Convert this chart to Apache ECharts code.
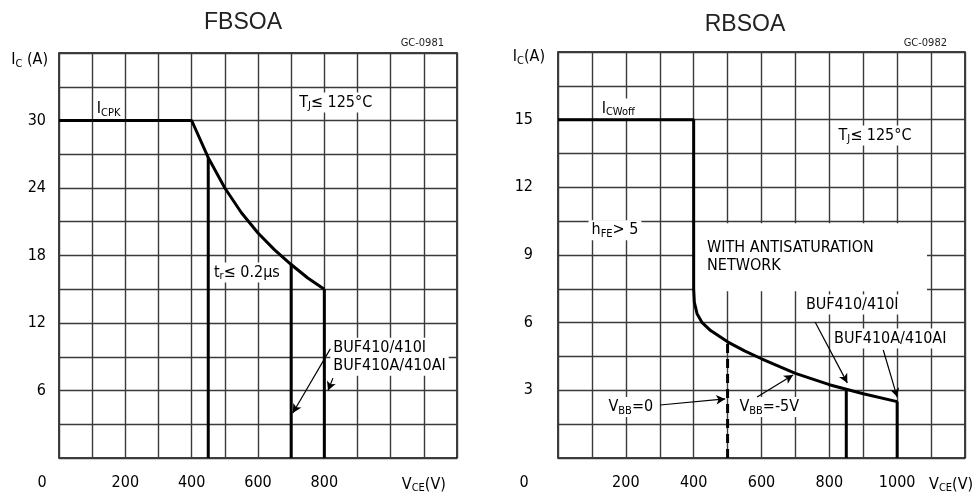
<!DOCTYPE html>
<html>
<head>
<meta charset="utf-8">
<script src="https://cdn.jsdelivr.net/npm/echarts@6/dist/echarts.min.js"></script>
<style>
html, body { margin: 0; padding: 0; background: #fff; }
#main { width: 978px; height: 495px; }
</style>
</head>
<body>
<div id="main"></div>
<script>
// ---------- FBSOA (left) ----------
var fbVce = [0, 400, 450, 500, 550, 600, 650, 700, 750, 800];
var fbIc = [30, 30, 26.7, 24, 21.8, 20, 18.5, 17.2, 16, 15];
// vertical limit lines (tr<=0.2us, BUF410, BUF410A)
var fbLimitV = [450, 700, 800];
var fbLimitI = [26.7, 17.2, 15];
var fbXTicks = [200, 400, 600, 800];
var fbYTicks = [6, 12, 18, 24, 30];

// ---------- RBSOA (right) ----------
var rbVce = [0, 400, 400, 402, 410, 425, 450, 500, 550, 600, 700, 800, 850, 900, 1000];
var rbIc = [15, 15, 7.5, 6.9, 6.4, 6.0, 5.65, 5.15, 4.75, 4.4, 3.75, 3.25, 3.05, 2.85, 2.5];
// VBB=0 (dashed), BUF410, BUF410A
var rbLimitV = [500, 850, 1000];
var rbLimitI = [5.15, 3.05, 2.5];
var rbXTicks = [200, 400, 600, 800, 1000];
var rbYTicks = [3, 6, 9, 12, 15];

var FONT = '"DejaVu Sans Condensed", "Liberation Sans Narrow", "DejaVu Sans", sans-serif';
var INK = '#000';

function zip(a, b) {
  var out = [];
  for (var i = 0; i < a.length; i++) out.push([a[i], b[i]]);
  return out;
}

var rich = {
  sub: { fontSize: 11, fontFamily: FONT, color: INK, padding: [8, 0, 0, 0] },
  o1: { fontSize: 16, fontFamily: FONT, color: INK, padding: [0, 34, 0, 0] },
  o2: { fontSize: 16, fontFamily: FONT, color: INK, padding: [0, 68, 0, 0] },
  v2: { fontSize: 16, fontFamily: FONT, color: INK, padding: [0, 0, 0, 40] },
  t: { fontSize: 16, fontFamily: FONT, color: INK }
};

function xAxisOf(gi, ticks, zeroStyle, nameStyle) {
  return {
    type: 'value', gridIndex: gi, min: 0, max: 1200, interval: 100,
    axisLine: { show: false }, axisTick: { show: false },
    splitLine: { show: true, lineStyle: { color: '#3a3a3a', width: 1.4 } },
    axisLabel: {
      margin: 17, fontSize: 16, fontFamily: FONT, color: INK, rich: rich,
      formatter: function (v) {
        if (v === 0) return '{' + zeroStyle + '|0}';
        if (v === 1100) return '{' + nameStyle + '|V}{sub|CE}{t|(V)}';
        return ticks.indexOf(v) >= 0 ? String(v) : '';
      }
    }
  };
}

function yAxisOf(gi, max, step, ticks, margin, name, gapDown, padRight) {
  return {
    type: 'value', gridIndex: gi, min: 0, max: max, interval: step,
    axisLine: { show: false }, axisTick: { show: false },
    splitLine: { show: true, lineStyle: { color: '#3a3a3a', width: 1.4 } },
    name: name, nameLocation: 'end', nameGap: -gapDown,
    nameTextStyle: {
      align: 'right', verticalAlign: 'middle', padding: [0, padRight, 0, 0],
      fontSize: 16, fontFamily: FONT, color: INK, rich: rich
    },
    axisLabel: {
      margin: margin, fontSize: 16, fontFamily: FONT, color: INK,
      showMinLabel: false, showMaxLabel: false,
      formatter: function (v) {
        for (var i = 0; i < ticks.length; i++) {
          if (Math.abs(v - ticks[i]) < 1e-6) return String(ticks[i]);
        }
        return '';
      }
    }
  };
}

function curve(xi, data, width, dashed) {
  return {
    type: 'line', xAxisIndex: xi, yAxisIndex: xi, data: data, z: 3,
    symbol: 'none', silent: true, animation: false,
    lineStyle: { color: '#000', width: width, type: dashed ? [9, 6] : 'solid' }
  };
}

function notes(xi, list, arrows) {
  return {
    type: 'scatter', xAxisIndex: xi, yAxisIndex: xi, z: 1, symbolSize: 0,
    silent: true, animation: false,
    itemStyle: { opacity: 1 },
    data: list.map(function (n) {
      var d = { value: n.at, label: { formatter: n.text } };
      if (n.box) {
        d.label.width = n.box[0];
        d.label.padding = n.box[1];
      }
      return d;
    }),
    label: {
      show: true, position: 'right', distance: 0,
      fontSize: 16, fontFamily: FONT, color: INK, lineHeight: 18,
      backgroundColor: '#fff', padding: [1, 3], rich: rich
    },
    markLine: {
      silent: true, animation: false, symbol: ['none', 'arrow'], symbolSize: [7, 9],
      lineStyle: { color: '#000', width: 1.2, type: 'solid', opacity: 1 },
      label: { show: false },
      data: arrows.map(function (a) {
        return [{ coord: a[0] }, { coord: a[1] }];
      })
    }
  };
}

var fbNotes = [
  { at: [105, 31], text: '{t|I}{sub|CPK}' },
  { at: [715, 31.6], text: '{t|T}{sub|J}{t|≤ 125°C}' },
  { at: [458, 16.5], text: '{t|t}{sub|r}{t|≤ 0.2μs}' },
  { at: [818, 9.0], text: 'BUF410/410I\nBUF410A/410AI' }
];
var fbArrows = [
  [[818, 9.7], [705, 4.0]],
  [[826, 7.1], [811, 6.0]]
];

var rbNotes = [
  { at: [120, 15.5], text: '{t|I}{sub|CWoff}' },
  { at: [818, 14.3], text: '{t|T}{sub|J}{t|≤ 125°C}' },
  { at: [90, 10.1], text: '{t|h}{sub|FE}{t|> 5}' },
  { at: [404, 8.9], text: 'WITH ANTISATURATION\nNETWORK', box: [220, [16, 0, 16, 12]] },
  { at: [722, 6.8], text: 'BUF410/410I' },
  { at: [805, 5.3], text: 'BUF410A/410AI' },
  { at: [140, 2.26], text: '{t|V}{sub|BB}{t|=0}' },
  { at: [526, 2.26], text: '{t|V}{sub|BB}{t|=-5V}' }
];
var rbArrows = [
  [[301, 2.35], [493, 2.62]],
  [[587, 2.7], [693, 3.68]],
  [[758, 6.03], [853, 3.33]],
  [[959, 4.79], [1000, 2.7]]
];

function limitLines(xi, vs, is, dashFirst) {
  var out = [];
  for (var i = 0; i < vs.length; i++) {
    out.push(curve(xi, [[vs[i], 0], [vs[i], is[i]]], 3, dashFirst && i === 0));
  }
  return out;
}

var chart = echarts.init(document.getElementById('main'), null, { renderer: 'canvas' });

var option = {
  backgroundColor: '#fff',
  animation: false,
  grid: [
    { left: 59, top: 53, width: 398, height: 405, show: true, borderColor: '#000', borderWidth: 1.5, backgroundColor: 'transparent' },
    { left: 558, top: 52, width: 407, height: 406, show: true, borderColor: '#000', borderWidth: 1.5, backgroundColor: 'transparent' }
  ],
  xAxis: [
    xAxisOf(0, fbXTicks, 'o1', 't'),
    xAxisOf(1, rbXTicks, 'o2', 'v2')
  ],
  yAxis: [
    yAxisOf(0, 36, 3, fbYTicks, 13, '{t|I}{sub|C}{t| (A)}', 7, 11),
    yAxisOf(1, 18, 1.5, rbYTicks, 25, '{t|I}{sub|C}{t|(A)}', 5, 13)
  ],
  graphic: [
    { type: 'text', x: 243, y: 23, style: { text: 'FBSOA', font: '23px "Liberation Sans", Arial, sans-serif', fill: '#222', align: 'center', verticalAlign: 'middle' } },
    { type: 'text', x: 745, y: 25, style: { text: 'RBSOA', font: '23px "Liberation Sans", Arial, sans-serif', fill: '#222', align: 'center', verticalAlign: 'middle' } },
    { type: 'text', x: 444, y: 43, style: { text: 'GC-0981', font: '11px ' + FONT, fill: '#222', align: 'right', verticalAlign: 'middle' } },
    { type: 'text', x: 947, y: 43, style: { text: 'GC-0982', font: '11px ' + FONT, fill: '#222', align: 'right', verticalAlign: 'middle' } }
  ],
  series: [
    curve(0, zip(fbVce, fbIc), 3, false),
    curve(1, zip(rbVce, rbIc), 3, false),
    notes(0, fbNotes, fbArrows),
    notes(1, rbNotes, rbArrows)
  ].concat(limitLines(0, fbLimitV, fbLimitI, false))
   .concat(limitLines(1, rbLimitV, rbLimitI, true))
};

chart.setOption(option);
</script>
</body>
</html>
